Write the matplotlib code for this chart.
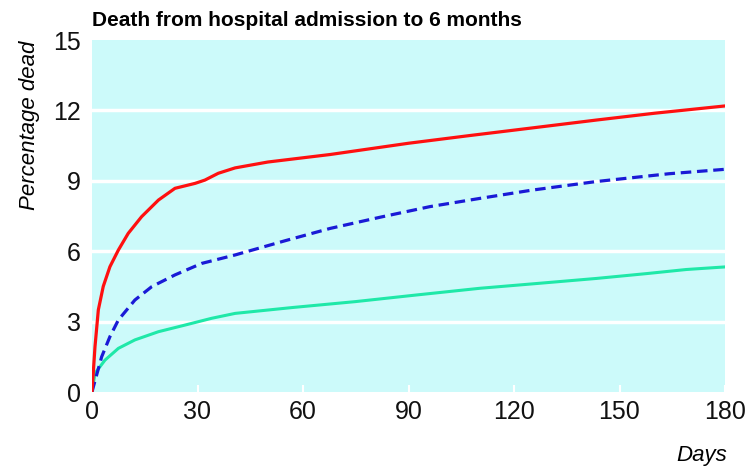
import matplotlib
matplotlib.use("Agg")
import matplotlib.pyplot as plt

# values (days, percentage dead)
red_days = [0, 0.85, 1.8, 3.2, 5.1, 7.5, 10.3, 14.1, 18.9, 23.6, 29.3, 32.1, 35.9, 40.7,
            50, 67.7, 90, 107.5, 125, 143.5, 160, 180]
red_pct = [0, 1.93, 3.5, 4.5, 5.34, 6.05, 6.76, 7.47, 8.18, 8.68, 8.89, 9.03, 9.32, 9.55,
           9.8, 10.12, 10.6, 10.93, 11.25, 11.59, 11.88, 12.19]

blue_days = [0, 0.4, 2.75, 5.1, 7.5, 12.2, 17, 23.6, 31.2, 40.7, 55, 67.7, 82, 96.1,
             110.3, 125, 143.5, 164, 180]
blue_pct = [0, 0.23, 1.5, 2.36, 3.07, 3.92, 4.49, 4.99, 5.48, 5.84, 6.45, 6.97, 7.45, 7.9,
            8.25, 8.6, 8.97, 9.3, 9.49]

green_days = [0, 0.85, 3.7, 7.5, 12.2, 18.9, 26.4, 34, 40.7, 57, 74.8, 92, 110.3, 127,
              143.5, 158, 169, 180]
green_pct = [0, 0.8, 1.36, 1.86, 2.22, 2.57, 2.85, 3.14, 3.35, 3.6, 3.85, 4.13, 4.42, 4.63,
             4.84, 5.05, 5.22, 5.33]

xticks = [0, 30, 60, 90, 120, 150, 180]
yticks = [0, 3, 6, 9, 12, 15]

FONT = ["Liberation Sans Narrow", "Liberation Sans", "DejaVu Sans"]
plt.rcParams["font.family"] = FONT

fig = plt.figure(figsize=(7.45, 4.72), dpi=100)
ax = fig.add_axes([92 / 745, 80 / 472, 633 / 745, 352 / 472])
ax.set_facecolor("#ccfafa")
for s in ax.spines.values():
    s.set_visible(False)

for y in yticks[1:-1]:
    ax.axhline(y, color="white", lw=2.5, zorder=1)

ax.plot(green_days, green_pct, color="#1fe8a8", lw=2.2, zorder=3, solid_joinstyle="round")
ax.plot(blue_days, blue_pct, color="#1a1ad6", lw=2.3, ls=(0, (3.3, 1.8)), zorder=3,
        dash_capstyle="butt")
ax.plot(red_days, red_pct, color="#ff1010", lw=2.3, zorder=4, solid_joinstyle="round")

ax.set_xlim(0, 180)
ax.set_ylim(0, 15)
ax.set_xticks(xticks)
ax.set_yticks(yticks)
ax.tick_params(axis="x", direction="in", color="white", length=5, width=1.5,
               labelsize=18, pad=6, labelcolor="#111111")
ax.tick_params(axis="y", length=0, labelsize=18, pad=8, labelcolor="#111111")

fig.text(92 / 745, 1 - 20 / 472, "Death from hospital admission to 6 months",
         fontsize=15, fontweight="bold", ha="left", va="center")
fig.text(30 / 745, 1 - 125 / 472, "Percentage dead", fontsize=16, style="italic",
         rotation=90, ha="center", va="center")
fig.text(727 / 745, 1 - 455 / 472, "Days", fontsize=16, style="italic",
         ha="right", va="center")

fig.savefig("out.png", dpi=100)
